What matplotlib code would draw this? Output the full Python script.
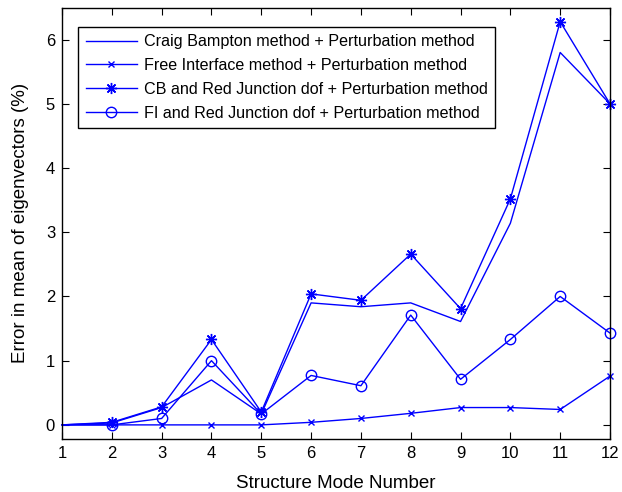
import matplotlib
matplotlib.use('Agg')
import matplotlib.pyplot as plt

plt.rcParams['font.family'] = ['Liberation Sans', 'DejaVu Sans']

modes = [1, 2, 3, 4, 5, 6, 7, 8, 9, 10, 11, 12]
cb_pert = [0, 0.03, 0.27, 0.70, 0.17, 1.90, 1.84, 1.90, 1.61, 3.14, 5.80, 5.00]
fi_pert = [0, 0, 0, 0, 0, 0.04, 0.10, 0.18, 0.27, 0.27, 0.24, 0.76]
cb_red_pert = [0, 0.04, 0.28, 1.33, 0.20, 2.04, 1.94, 2.66, 1.81, 3.52, 6.28, 5.00]
fi_red_pert = [0, 0, 0.10, 1.00, 0.17, 0.77, 0.61, 1.71, 0.71, 1.33, 2.00, 1.43]

blue = '#0000ff'
fig = plt.figure(figsize=(6.22, 4.92), dpi=100)
ax = fig.add_axes([0.0997, 0.1077, 0.881, 0.877])

mk = slice(1, None)
asterisk = (8, 2, 0)
ax.plot(modes, cb_pert, color=blue, lw=1, label='Craig Bampton method + Perturbation method')
ax.plot(modes, fi_pert, color=blue, lw=1, marker='x', ms=4, mew=1, markevery=mk,
        label='Free Interface method + Perturbation method', clip_on=False)
ax.plot(modes, cb_red_pert, color=blue, lw=1, marker=asterisk, ms=8, mew=1, markevery=mk,
        label='CB and Red Junction dof + Perturbation method', clip_on=False)
ax.plot(modes, fi_red_pert, color=blue, lw=1, marker='o', ms=7.5, mfc='none', mew=1, markevery=mk,
        label='FI and Red Junction dof + Perturbation method', clip_on=False)

ax.set_xlim(1, 12)
ax.set_ylim(-0.22, 6.5)
ax.set_xticks(modes)
ax.set_yticks(range(0, 7))
ax.tick_params(direction='in', top=True, right=True, labelsize=12, length=5, width=0.8, pad=5)
for s in ax.spines.values():
    s.set_linewidth(1)

ax.set_xlabel('Structure Mode Number', fontsize=13.5, labelpad=10)
ax.set_ylabel('Error in mean of eigenvectors (%)', fontsize=13.5, labelpad=12)

leg = ax.legend(loc='upper left', bbox_to_anchor=(0.03, 0.955), fontsize=11.6, fancybox=False,
                framealpha=1, edgecolor='black', handlelength=3.2, handletextpad=0.4,
                borderpad=0.45, labelspacing=0.55, borderaxespad=0)
leg.get_frame().set_linewidth(1)

fig.savefig('out.png', dpi=100)
